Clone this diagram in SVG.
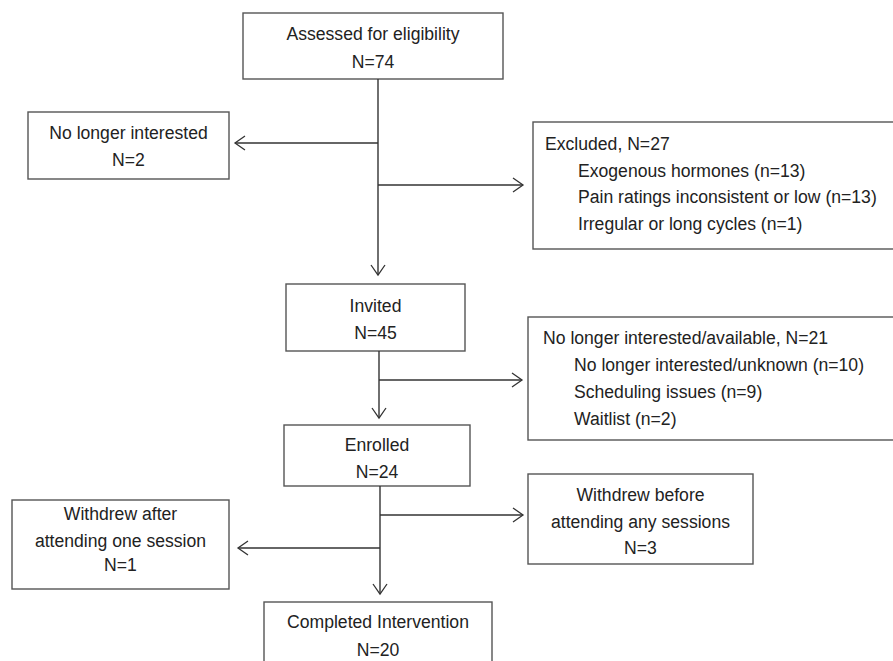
<svg xmlns="http://www.w3.org/2000/svg" width="893" height="661" viewBox="0 0 893 661">
<defs>
<marker id="arr" markerUnits="userSpaceOnUse" markerWidth="20" markerHeight="20" refX="11" refY="8" orient="auto" viewBox="0 0 20 16">
<path d="M1,1 L11,8 L1,15" fill="none" stroke="#333" stroke-width="1.3"/>
</marker>
</defs>
<style>
rect{fill:#fff;stroke:#555;stroke-width:1.4}
text{font-family:"Liberation Sans",Arial,sans-serif;font-size:17.6px;fill:#222}
.c{text-anchor:middle}
.conn line{stroke:#333;stroke-width:1.4}
</style>
<rect x="0" y="0" width="893" height="661" style="stroke:none"/>
<g id="assessed"><rect x="243" y="13" width="260" height="66"/><text class="c" x="373" y="40">Assessed for eligibility</text><text class="c" x="373" y="68">N=74</text></g>
<g id="nli"><rect x="28" y="112" width="201" height="67"/><text class="c" x="128.5" y="139">No longer interested</text><text class="c" x="128.5" y="166">N=2</text></g>
<g id="excluded"><rect x="533" y="122" width="365" height="127"/><text x="545" y="150">Excluded, N=27</text><text x="578" y="177">Exogenous hormones (n=13)</text><text x="578" y="203">Pain ratings inconsistent or low (n=13)</text><text x="578" y="230">Irregular or long cycles (n=1)</text></g>
<g id="invited"><rect x="286" y="284" width="179" height="67"/><text class="c" x="375.5" y="312">Invited</text><text class="c" x="375.5" y="339">N=45</text></g>
<g id="nlia"><rect x="528" y="317" width="370" height="123"/><text x="543" y="344">No longer interested/available, N=21</text><text x="574" y="371">No longer interested/unknown (n=10)</text><text x="574" y="398">Scheduling issues (n=9)</text><text x="574" y="425">Waitlist (n=2)</text></g>
<g id="enrolled"><rect x="284" y="425" width="186" height="61"/><text class="c" x="377" y="451">Enrolled</text><text class="c" x="377" y="478">N=24</text></g>
<g id="wbefore"><rect x="528" y="474" width="225" height="90"/><text class="c" x="640.5" y="501">Withdrew before</text><text class="c" x="640.5" y="528">attending any sessions</text><text class="c" x="640.5" y="554">N=3</text></g>
<g id="wafter"><rect x="12" y="500" width="217" height="89"/><text class="c" x="120.5" y="520">Withdrew after</text><text class="c" x="120.5" y="547">attending one session</text><text class="c" x="120.5" y="571">N=1</text></g>
<g id="completed"><rect x="264" y="602" width="228" height="70"/><text class="c" x="378" y="628">Completed Intervention</text><text class="c" x="378" y="656">N=20</text></g>
<g id="connectors" class="conn">
<line x1="378" y1="79" x2="378" y2="275" marker-end="url(#arr)"/>
<line x1="378" y1="143" x2="235" y2="143" marker-end="url(#arr)"/>
<line x1="378" y1="185" x2="523" y2="185" marker-end="url(#arr)"/>
<line x1="379" y1="351" x2="379" y2="418" marker-end="url(#arr)"/>
<line x1="379" y1="380" x2="522" y2="380" marker-end="url(#arr)"/>
<line x1="380" y1="486" x2="380" y2="594" marker-end="url(#arr)"/>
<line x1="380" y1="515" x2="523" y2="515" marker-end="url(#arr)"/>
<line x1="380" y1="548" x2="238" y2="548" marker-end="url(#arr)"/>
</g>
</svg>
